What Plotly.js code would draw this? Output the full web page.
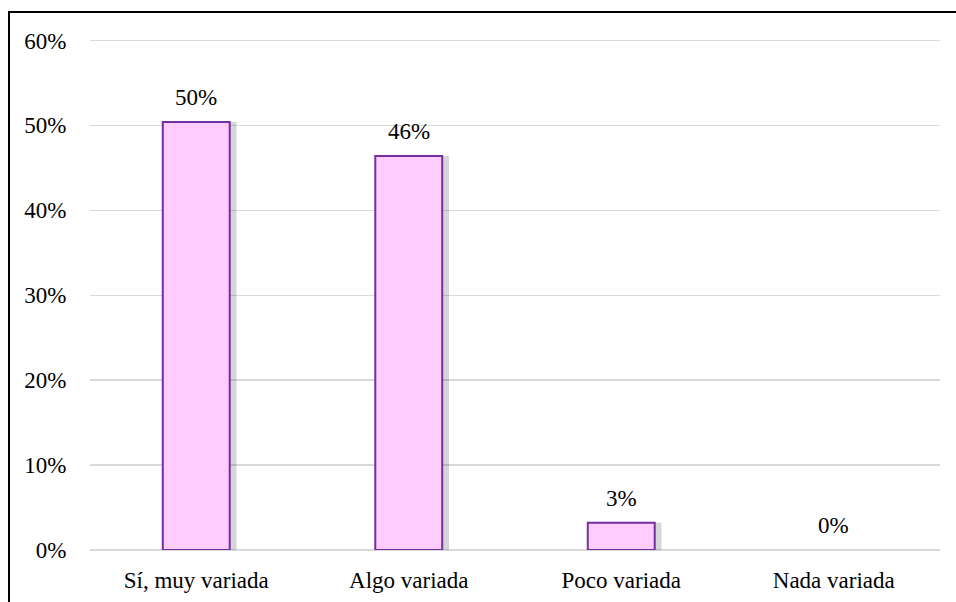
<!DOCTYPE html>
<html>
<head>
<meta charset="utf-8">
<script src="https://cdn.plot.ly/plotly-3.0.1.min.js"></script>
<style>
html,body{margin:0;padding:0;background:#fff;}
#wrap{position:relative;width:956px;height:602px;overflow:hidden;}
#chart{position:absolute;left:0;top:0;width:956px;height:602px;}
#frame{position:absolute;left:8px;top:11px;width:960px;height:600px;border-left:2px solid #000;border-top:2px solid #000;pointer-events:none;}
</style>
</head>
<body>
<div id="wrap"><div id="chart"></div><div id="frame"></div></div>
<script>
const categories = ["Sí, muy variada", "Algo variada", "Poco variada", "Nada variada"];
const values = [50.4, 46.4, 3.2, 0];
const valueLabels = ["50%", "46%", "3%", "0%"];
const yTickVals = [0, 10, 20, 30, 40, 50, 60];
const yTickText = ["0%", "10%", "20%", "30%", "40%", "50%", "60%"];

const mkFont = () => ({family: "Liberation Serif", size: 23, color: "#000"});

const lineWidths = values.map(v => v > 0 ? 2 : 0);

const shadow = {
  type: "bar", x: categories, y: values,
  marker: {color: "rgba(0,0,0,0.16)", line: {width: 0}},
  width: 0.315, offset: -0.1475 + 0.022,
  hoverinfo: "skip", showlegend: false
};
const bars = {
  type: "bar", x: categories, y: values,
  marker: {color: "#FFCCFF", line: {color: "#7030A0", width: lineWidths}},
  width: 0.315,
  hoverinfo: "x+y", showlegend: false
};

const annotations = categories.map((c, i) => ({
  x: c, y: values[i], xref: "x", yref: "y",
  text: valueLabels[i], showarrow: false,
  yanchor: "bottom", yshift: 10, font: mkFont()
}));

const layout = {
  width: 956, height: 602,
  margin: {l: 90, r: 16, t: 32, b: 52},
  paper_bgcolor: "#fff", plot_bgcolor: "#fff",
  barmode: "overlay",
  font: mkFont(),
  xaxis: {
    type: "category", showgrid: false, zeroline: false, showline: false,
    ticks: "outside", ticklen: 9, tickcolor: "rgba(0,0,0,0)",
    tickfont: mkFont()
  },
  yaxis: {
    range: [0, 61], tickvals: yTickVals, ticktext: yTickText,
    showgrid: true, gridcolor: "#D9D9D9", gridwidth: 1.5,
    zeroline: true, zerolinecolor: "#D9D9D9", zerolinewidth: 1.5,
    showline: false, ticks: "outside", ticklen: 18, tickcolor: "rgba(0,0,0,0)",
    tickfont: mkFont(), fixedrange: true
  },
  annotations: annotations,
  showlegend: false
};

Plotly.newPlot("chart", [shadow, bars], layout, {displayModeBar: false, staticPlot: true});
</script>
</body>
</html>
